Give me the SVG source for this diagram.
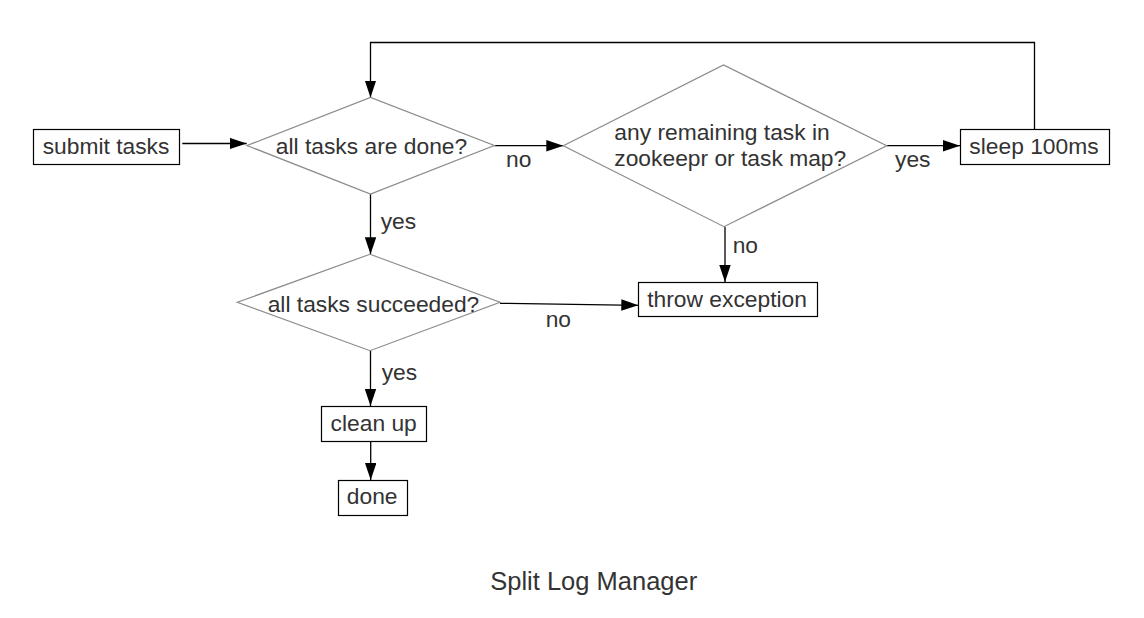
<svg xmlns="http://www.w3.org/2000/svg" width="1144" height="618" viewBox="0 0 1144 618">
<style>
  .box { fill: #ffffff; stroke: #000000; stroke-width: 1.2; }
  .dia { fill: #ffffff; stroke: #8a8a8a; stroke-width: 1.2; }
  .t { font-family: "Liberation Sans", Arial, sans-serif; font-size: 22.8px; fill: #333333; }
  .m { text-anchor: middle; }
  .c { fill: none; stroke: #000000; stroke-width: 1.3; marker-end: url(#ah); }
  .cn { fill: none; stroke: #000000; stroke-width: 1.3; }
  .title { font-family: "Liberation Sans", Arial, sans-serif; font-size: 25.5px; fill: #333333; text-anchor: middle; }
</style>
<defs>
  <marker id="ah" markerUnits="userSpaceOnUse" markerWidth="18" markerHeight="12" refX="17" refY="5.7" orient="auto">
    <path d="M0,0 L17,5.7 L0,11.4 z" fill="#000000"/>
  </marker>
</defs>
<rect width="1144" height="618" fill="#ffffff"/>
<g id="connectors">
  <path class="c" d="M182.3,143.5 H246.7"/>
  <path class="c" d="M1034.5,129.5 V42.5 H370.5 V97.5"/>
  <path class="c" d="M494.3,145.7 H563.3"/>
  <path class="c" d="M886.7,145.7 H960"/>
  <path class="c" d="M370.5,194 V254.3"/>
  <path class="c" d="M725,226.7 V282"/>
  <path class="c" d="M500,303.3 L638.3,305.3"/>
  <path class="c" d="M370.5,350.7 V406"/>
  <path class="c" d="M370.7,441.5 V480"/>
  <text class="t" x="506" y="167.3">no</text>
  <text class="t" x="380.7" y="228.7">yes</text>
  <text class="t" x="895" y="167.3">yes</text>
  <text class="t" x="732.7" y="253.3">no</text>
  <text class="t" x="545.7" y="326.7">no</text>
  <text class="t" x="381.7" y="380">yes</text>
</g>
<g id="submit">
  <rect class="box" x="33.5" y="129.5" width="146" height="35"/>
  <text class="t m" x="106" y="154.3">submit tasks</text>
</g>
<g id="allDone">
  <polygon class="dia" points="247,145.5 370.5,97.5 494.3,145.5 370.5,194"/>
  <text class="t m" x="371.5" y="154.3">all tasks are done?</text>
</g>
<g id="remaining">
  <polygon class="dia" points="563.3,145.7 723.5,65 886.7,145.7 724,226.7"/>
  <text class="t" x="614.3" y="140">any remaining task in</text>
  <text class="t" x="614.3" y="166">zookeepr or task map?</text>
</g>
<g id="sleep">
  <rect class="box" x="960.5" y="129.5" width="149" height="35"/>
  <text class="t m" x="1034" y="154.3">sleep 100ms</text>
</g>
<g id="succeeded">
  <polygon class="dia" points="237.3,302.3 370,254.3 500,302.3 370,350.7"/>
  <text class="t m" x="373.5" y="311.7">all tasks succeeded?</text>
</g>
<g id="throw">
  <rect class="box" x="638.5" y="282.5" width="179" height="34"/>
  <text class="t m" x="727.1" y="306.7">throw exception</text>
</g>
<g id="cleanup">
  <rect class="box" x="321.5" y="406.5" width="105" height="35"/>
  <text class="t m" x="373.7" y="430.7">clean up</text>
</g>
<g id="done">
  <rect class="box" x="338.5" y="480.5" width="69" height="35"/>
  <text class="t m" x="372.2" y="504.3">done</text>
</g>
<text class="title" x="593.7" y="590">Split Log Manager</text>
</svg>
